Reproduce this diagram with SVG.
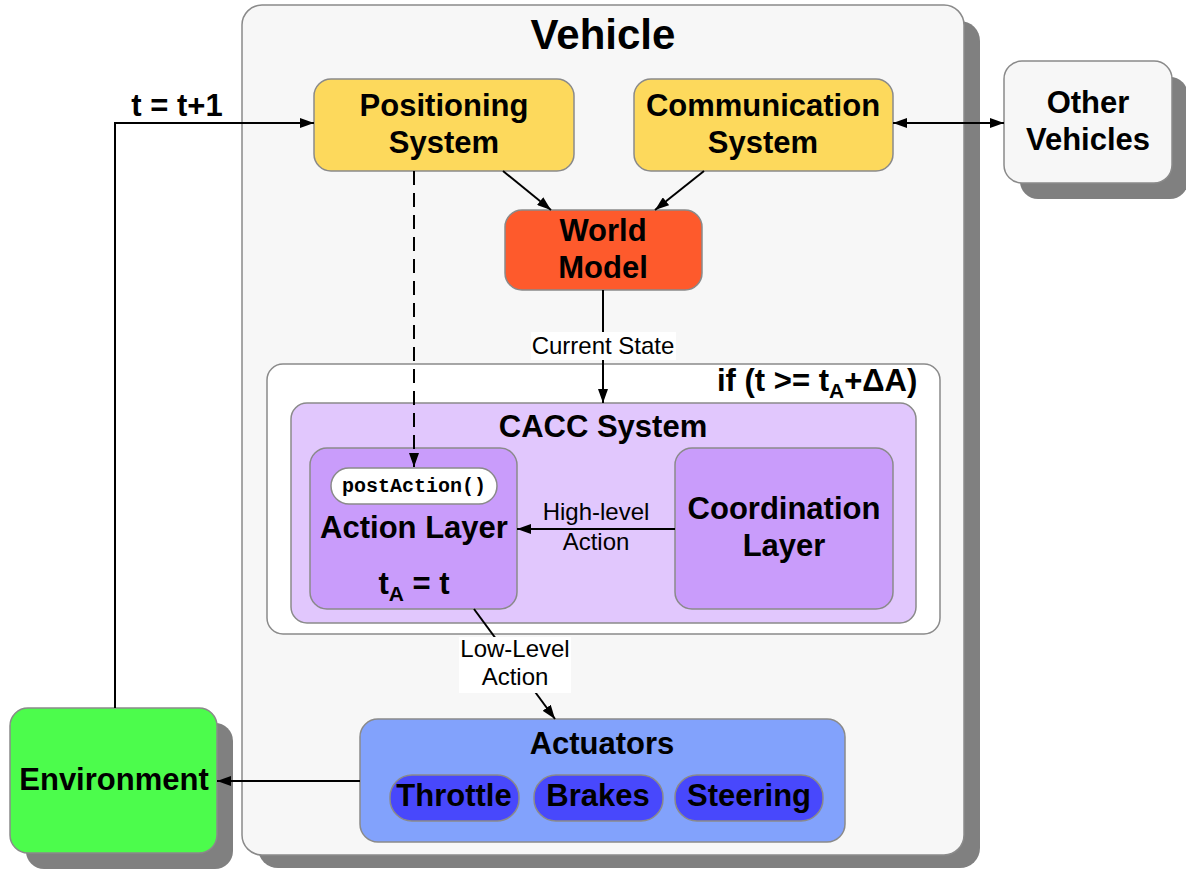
<svg xmlns="http://www.w3.org/2000/svg" width="1186" height="869" viewBox="0 0 1186 869">
  <defs>
    <marker id="arrow" viewBox="0 0 14 10" refX="14" refY="5" markerWidth="14" markerHeight="10" markerUnits="userSpaceOnUse" orient="auto-start-reverse">
      <path d="M0,0 L14,5 L0,10 z" fill="#000"/>
    </marker>
  </defs>
  <style>
    .box { stroke: #8a8a8a; stroke-width: 1.5; }
    .shadow { fill: #808080; }
    .bold { font-family: "Liberation Sans", Arial, sans-serif; font-weight: bold; fill: #000; text-anchor: middle; }
    .start { text-anchor: start; }
    .t40 { font-size: 42px; }
    .t30 { font-size: 31px; }
    .lbl { font-family: "Liberation Sans", Arial, sans-serif; font-size: 24px; fill: #000; text-anchor: middle; }
    .mono { font-family: "Liberation Mono", "Courier New", monospace; font-weight: bold; font-size: 20px; fill: #000; text-anchor: middle; }
    .wire { fill: none; stroke: #000; stroke-width: 2; }
  </style>

  <!-- vehicle container -->
  <g id="vehicle">
    <rect class="shadow" x="258" y="21" width="722" height="847" rx="20"/>
    <rect class="box" x="242" y="5" width="722" height="850" rx="20" fill="#f7f7f7"/>
    <text class="bold t40" x="603" y="49">Vehicle</text>
  </g>

  <g id="positioning">
    <rect class="box" x="314" y="79" width="260" height="92" rx="17" fill="#fdd95c"/>
    <text class="bold t30" x="444" y="116">Positioning</text>
    <text class="bold t30" x="444" y="153">System</text>
  </g>

  <g id="communication">
    <rect class="box" x="634" y="79" width="259" height="92" rx="17" fill="#fdd95c"/>
    <text class="bold t30" x="763" y="116">Communication</text>
    <text class="bold t30" x="763" y="153">System</text>
  </g>

  <g id="world-model">
    <rect class="box" x="505" y="210" width="197" height="80" rx="17" fill="#fe5a2c"/>
    <text class="bold t30" x="603" y="241">World</text>
    <text class="bold t30" x="603" y="278">Model</text>
  </g>

  <g id="other-vehicles">
    <rect class="shadow" x="1020" y="77" width="168" height="122" rx="18"/>
    <rect class="box" x="1004" y="61" width="168" height="122" rx="18" fill="#f7f7f7"/>
    <text class="bold t30" x="1088" y="113">Other</text>
    <text class="bold t30" x="1088" y="150">Vehicles</text>
  </g>

  <g id="condition">
    <rect class="box" x="267" y="364" width="673" height="270" rx="16" fill="#ffffff"/>
    <text class="bold t30 start" x="717" y="391">if (t &gt;= t<tspan font-size="21" dy="7">A</tspan><tspan dy="-7">+ΔA)</tspan></text>
  </g>

  <g id="cacc-system">
    <rect class="box" x="291" y="403" width="625" height="220" rx="16" fill="#e1c7fd"/>
    <text class="bold t30" x="603" y="437">CACC System</text>
  </g>

  <g id="action-layer">
    <rect class="box" x="310" y="448" width="207" height="161" rx="17" fill="#c99cfb"/>
    <rect class="box" x="331" y="468" width="166" height="36" rx="18" fill="#ffffff"/>
    <text class="mono" x="414" y="492">postAction()</text>
    <text class="bold t30" x="414" y="538">Action Layer</text>
    <text class="bold t30" x="414" y="594">t<tspan font-size="21" dy="7">A</tspan><tspan dy="-7"> = t</tspan></text>
  </g>

  <g id="coordination-layer">
    <rect class="box" x="675" y="448" width="218" height="161" rx="17" fill="#c99cfb"/>
    <text class="bold t30" x="784" y="519">Coordination</text>
    <text class="bold t30" x="784" y="556">Layer</text>
  </g>

  <g id="actuators">
    <rect class="box" x="360" y="719" width="485" height="123" rx="18" fill="#82a2fc"/>
    <text class="bold t30" x="602" y="754">Actuators</text>
    <rect class="box" x="390" y="775" width="129" height="46" rx="22" fill="#4848fc"/>
    <text class="bold t30" x="454" y="806">Throttle</text>
    <rect class="box" x="534" y="775" width="129" height="46" rx="22" fill="#4848fc"/>
    <text class="bold t30" x="598" y="806">Brakes</text>
    <rect class="box" x="675" y="775" width="148" height="46" rx="22" fill="#4848fc"/>
    <text class="bold t30" x="749" y="806">Steering</text>
  </g>

  <g id="environment">
    <rect class="shadow" x="26" y="723" width="207" height="146" rx="18"/>
    <rect class="box" x="10" y="708" width="207" height="145" rx="18" fill="#4cfc4c"/>
    <text class="bold t30" x="114" y="790">Environment</text>
  </g>

  <!-- connectors -->
  <g id="connectors">
    <!-- time step loop: environment back to positioning -->
    <path class="wire" d="M115,708 L115,123 L314,123" marker-end="url(#arrow)"/>
    <text class="bold t30" x="177" y="116">t = t+1</text>

    <!-- communication link with other vehicles -->
    <path class="wire" d="M893,123 L1004,123" marker-start="url(#arrow)" marker-end="url(#arrow)"/>

    <!-- sensing into world model -->
    <path class="wire" d="M503,171 L551,210" marker-end="url(#arrow)"/>
    <path class="wire" d="M704,171 L655,210" marker-end="url(#arrow)"/>

    <!-- position timestamp into postAction -->
    <path class="wire" d="M414,171 L414,467" stroke-dasharray="14 8" marker-end="url(#arrow)"/>

    <!-- current state into CACC -->
    <path class="wire" d="M603,290 L603,403" marker-end="url(#arrow)"/>
    <rect x="531" y="332" width="145" height="28" fill="#ffffff"/>
    <text class="lbl" x="603" y="354">Current State</text>

    <!-- high-level action -->
    <path class="wire" d="M675,529 L517,529" marker-end="url(#arrow)"/>
    <text class="lbl" x="596" y="520">High-level</text>
    <text class="lbl" x="596" y="550">Action</text>

    <!-- low-level action to actuators -->
    <path class="wire" d="M474,609 L555,719" marker-end="url(#arrow)"/>
    <rect x="459" y="637" width="112" height="56" fill="#ffffff"/>
    <text class="lbl" x="515" y="657">Low-Level</text>
    <text class="lbl" x="515" y="685">Action</text>

    <!-- actuators act on environment -->
    <path class="wire" d="M360,781 L217,781" marker-end="url(#arrow)"/>
  </g>
</svg>
